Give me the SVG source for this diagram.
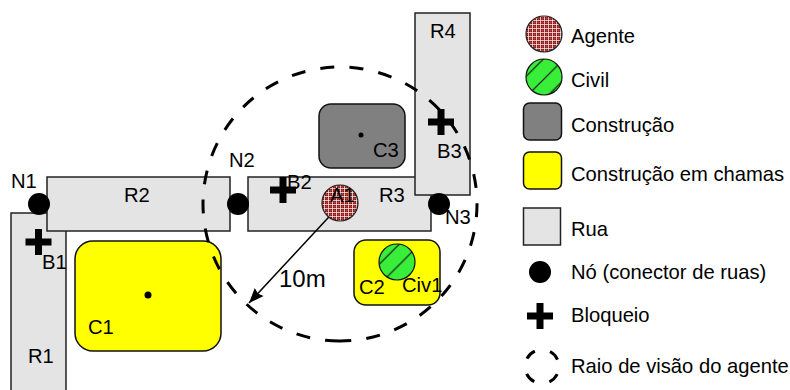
<svg xmlns="http://www.w3.org/2000/svg" width="790" height="390" viewBox="0 0 790 390">
<style>
text{font-family:"Liberation Sans",Arial,sans-serif;font-size:20.200px;fill:#000}
.road{fill:#e4e4e4;stroke:#222;stroke-width:1.5}
.cin{fill:#808080;stroke:#111;stroke-width:1.5}
.yel{fill:#ff0;stroke:#111;stroke-width:1.5}
.node{fill:#000}
.ag{fill:url(#grid);stroke:#222;stroke-width:1.2}
.civ{fill:url(#hatch);stroke:#111;stroke-width:1.2}
.dash{fill:none;stroke:#000;stroke-width:3;stroke-dasharray:14 15.250}
.dot{fill:#000}
</style>
<defs>
<pattern id="grid" width="4" height="4" patternUnits="userSpaceOnUse"><rect width="4" height="4" fill="#8a0f0f"/><path d="M0 2.500H4M2.500 0V4" stroke="#a83a3a" stroke-width="1"/><path d="M0 .5H4M.5 0V4" stroke="#fff" stroke-width=".7"/></pattern>
<pattern id="hatch" width="20.500" height="20.500" patternUnits="userSpaceOnUse" patternTransform="translate(8 0)"><rect width="20.500" height="20.500" fill="#39ee39"/><path d="M-2 22.500L22.500 -2M-2 2L2 -2M18.500 22.500L22.500 18.500" stroke="#111" stroke-width="1.2"/></pattern>
<path id="plus" d="M-3.500 -13H3.500V-3.500H13V3.500H3.500V13H-3.500V3.500H-13V-3.500H-3.500Z"/>
<marker id="ah" markerUnits="userSpaceOnUse" markerWidth="16" markerHeight="14" refX="15" refY="7" orient="auto"><path d="M0 1L15 7L0 13L2 7Z" fill="#000"/></marker>
</defs>
<g id="roads">
<g id="R1"><rect class="road" x="11" y="213" width="55" height="190"/><text x="28" y="363">R1</text></g>
<g id="R2"><rect class="road" x="47" y="177" width="183" height="54"/><text x="124" y="202">R2</text></g>
<g id="R3"><rect class="road" x="248" y="177" width="183" height="54"/><text x="379" y="202">R3</text></g>
<g id="R4"><rect class="road" x="415" y="13" width="55" height="182"/><text x="430" y="38">R4</text></g>
</g>
<g id="C1"><rect class="yel" x="75" y="241" width="146" height="110" rx="18"/><circle class="dot" cx="148" cy="295" r="3.500"/><text x="88" y="334">C1</text></g>
<g id="C2"><rect class="yel" x="354" y="240" width="86" height="65" rx="12"/><text x="359" y="294">C2</text></g>
<g id="C3"><rect class="cin" x="319" y="104" width="86" height="64" rx="12"/><circle class="dot" cx="361" cy="135" r="2.500"/><text x="373" y="157">C3</text></g>
<g id="connectors">
<circle id="vision" class="dash" cx="340" cy="204" r="137" transform="rotate(90.400 340 204)"/>
<line x1="340" y1="205" x2="249" y2="303" stroke="#000" stroke-width="1.500" marker-end="url(#ah)"/>
<text x="279" y="287" style="font-size:24px">10m</text>
</g>
<g id="N1"><circle class="node" cx="39" cy="204" r="11"/><text x="11" y="188">N1</text></g>
<g id="N2"><circle class="node" cx="238" cy="204" r="11"/><text x="229" y="167">N2</text></g>
<g id="N3"><circle class="node" cx="439" cy="204" r="11"/><text x="445" y="224">N3</text></g>
<g id="B1"><use href="#plus" x="38.500" y="242"/><text x="42" y="269">B1</text></g>
<g id="B2"><use href="#plus" x="283" y="190"/><text x="287" y="189">B2</text></g>
<g id="B3"><use href="#plus" x="441" y="122"/><text x="437" y="158">B3</text></g>
<g id="A1"><circle class="ag" cx="340" cy="203" r="18"/><text x="330" y="202">A1</text></g>
<g id="Civ1"><circle class="civ" cx="397" cy="262" r="18"/><text x="402" y="292">Civ1</text></g>
<g id="legend">
<g id="leg-agente"><circle class="ag" cx="544" cy="34" r="18"/><text x="571" y="43">Agente</text></g>
<g id="leg-civil"><circle class="civ" cx="544" cy="77" r="18"/><text x="571" y="87">Civil</text></g>
<g id="leg-construcao"><rect class="cin" x="523.500" y="103" width="38" height="37" rx="6"/><text x="571" y="132">Construção</text></g>
<g id="leg-chamas"><rect class="yel" x="523.500" y="152" width="38" height="37" rx="6"/><text x="571" y="181">Construção em chamas</text></g>
<g id="leg-rua"><rect class="road" x="523.500" y="208" width="37" height="37"/><text x="571" y="236">Rua</text></g>
<g id="leg-no"><circle class="node" cx="540" cy="272" r="11"/><text x="571" y="279">Nó (conector de ruas)</text></g>
<g id="leg-bloqueio"><use href="#plus" x="540" y="316"/><text x="571" y="322">Bloqueio</text></g>
<g id="leg-raio"><circle cx="542" cy="366.500" r="17" fill="none" stroke="#000" stroke-width="3" stroke-dasharray="11 15.700" stroke-dashoffset="-7.850"/><text x="571" y="373">Raio de visão do agente</text></g>
</g>
</svg>
